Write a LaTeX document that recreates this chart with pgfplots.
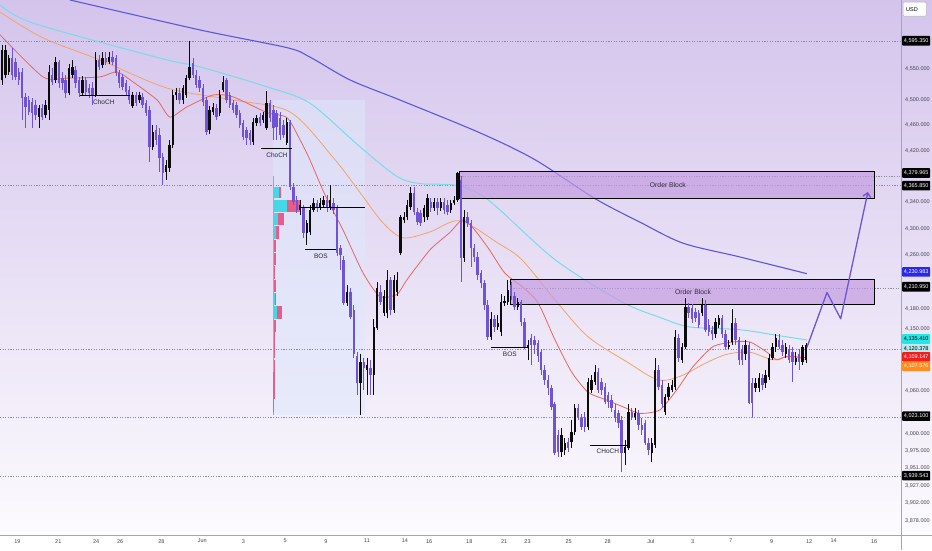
\documentclass[border=0pt]{standalone}
\usepackage{pgfplots}
\pgfplotsset{compat=1.18}
\usepackage{pgfplotstable}
\usetikzlibrary{arrows.meta}
\usepackage{fontspec}
\setmainfont{Liberation Sans}

\definecolor{bgtop}{RGB}{212,196,236}
\definecolor{bgmid}{RGB}{231,223,245}
\definecolor{bgbot}{RGB}{252,251,254}
\definecolor{bear}{RGB}{112,82,212}
\definecolor{bull}{RGB}{12,12,12}
\definecolor{emablue}{RGB}{92,88,222}
\definecolor{emacyan}{RGB}{120,220,232}
\definecolor{emaorange}{RGB}{242,164,104}
\definecolor{emared}{RGB}{232,102,96}
\definecolor{obfill}{RGB}{196,156,226}
\definecolor{vpcyan}{RGB}{70,215,230}
\definecolor{vppink}{RGB}{232,92,140}
\definecolor{vpbox}{RGB}{222,232,252}
\definecolor{arrowc}{RGB}{112,84,212}
\definecolor{lblgray}{RGB}{70,70,80}
\definecolor{lblblue}{RGB}{40,40,235}
\definecolor{lblcyan}{RGB}{40,228,228}
\definecolor{lblcyanl}{RGB}{178,236,240}
\definecolor{lblred}{RGB}{242,30,30}
\definecolor{lblorange}{RGB}{255,140,30}
\definecolor{dotc}{RGB}{140,140,150}
\definecolor{antext}{RGB}{40,40,50}

\newcommand\lblfont{\fontsize{5.5}{6.5}\selectfont}
\newcommand\anfont{\fontsize{6.5}{7.5}\selectfont}

\pgfplotstableread{
x o h l c
0 4532 4589 4524 4580
1 4540 4589 4535 4580
2 4545 4572 4540 4567
3 4567 4584 4532 4540
4 4561 4567 4532 4537
5 4545 4551 4524 4532
6 4545 4551 4469 4503
7 4505 4511 4456 4489
8 4500 4507 4476 4481
9 4497 4503 4456 4480
10 4492 4500 4469 4476
11 4473 4492 4456 4488
12 4488 4494 4469 4473
13 4476 4500 4472 4492
14 4484 4556 4469 4545
15 4540 4551 4524 4529
16 4532 4569 4527 4561
17 4561 4564 4519 4527
18 4535 4545 4516 4527
19 4532 4540 4503 4511
20 4511 4558 4508 4551
21 4540 4564 4535 4553
22 4548 4554 4519 4527
23 4532 4537 4505 4511
24 4511 4538 4507 4532
25 4532 4537 4508 4513
26 4519 4526 4503 4511
27 4519 4529 4492 4508
28 4508 4577 4505 4564
29 4564 4572 4548 4553
30 4556 4577 4551 4567
31 4567 4577 4556 4561
32 4561 4577 4558 4569
33 4569 4579 4556 4561
34 4567 4572 4538 4543
35 4543 4548 4519 4527
36 4537 4542 4516 4521
37 4527 4532 4507 4513
38 4516 4522 4494 4500
39 4491 4513 4488 4508
40 4508 4513 4491 4495
41 4500 4513 4495 4508
42 4505 4511 4488 4492
43 4495 4500 4475 4480
44 4484 4491 4403 4426
45 4426 4461 4421 4450
46 4453 4461 4429 4437
47 4445 4456 4387 4409
48 4410 4417 4367 4386
49 4387 4406 4375 4397
50 4393 4437 4387 4429
51 4429 4516 4424 4508
52 4508 4519 4500 4513
53 4511 4519 4494 4500
54 4500 4524 4494 4519
55 4508 4540 4503 4535
56 4535 4595 4532 4553
57 4559 4567 4535 4540
58 4540 4548 4519 4524
59 4532 4538 4513 4519
60 4519 4526 4491 4497
61 4500 4505 4445 4450
62 4453 4491 4446 4484
63 4481 4495 4476 4489
64 4488 4494 4469 4473
65 4480 4516 4475 4508
66 4516 4538 4513 4529
67 4532 4535 4495 4500
68 4508 4513 4488 4492
69 4495 4500 4480 4484
70 4492 4497 4472 4476
71 4480 4484 4456 4461
72 4464 4469 4437 4442
73 4453 4458 4429 4440
74 4448 4453 4429 4437
75 4434 4472 4429 4465
76 4464 4476 4459 4472
77 4473 4480 4459 4464
78 4469 4481 4464 4476
79 4456 4515 4453 4495
80 4495 4500 4465 4472
81 4484 4492 4437 4456
82 4480 4484 4437 4458
83 4472 4481 4437 4445
84 4461 4469 4440 4445
85 4432 4472 4429 4465
86 4465 4469 4359 4364
87 4364 4370 4336 4341
88 4344 4350 4324 4329
89 4329 4344 4321 4336
90 4332 4336 4286 4294
91 4294 4313 4275 4309
92 4295 4336 4291 4329
93 4329 4347 4326 4339
94 4339 4344 4326 4332
95 4332 4347 4329 4339
96 4336 4350 4332 4344
97 4344 4352 4326 4332
98 4333 4367 4329 4344
99 4339 4347 4323 4329
100 4332 4336 4259 4263
101 4271 4275 4238 4260
102 4253 4259 4186 4189
103 4189 4215 4184 4205
104 4205 4211 4164 4168
105 4178 4186 4108 4113
106 4110 4117 4055 4072
107 4072 4113 4026 4102
108 4102 4108 4062 4094
109 4091 4108 4055 4098
110 4094 4105 4055 4084
111 4084 4164 4055 4153
112 4152 4220 4149 4211
113 4205 4215 4186 4190
114 4174 4208 4169 4198
115 4174 4238 4166 4223
116 4223 4227 4171 4178
117 4178 4230 4174 4223
118 4204 4235 4199 4223
119 4263 4321 4260 4317
120 4313 4326 4309 4318
121 4318 4344 4313 4336
122 4333 4363 4329 4355
123 4355 4363 4321 4326
124 4326 4332 4306 4310
125 4324 4329 4304 4309
126 4317 4336 4310 4332
127 4317 4353 4313 4347
128 4341 4347 4326 4332
129 4332 4347 4327 4341
130 4341 4347 4321 4332
131 4332 4346 4327 4341
132 4341 4347 4323 4329
133 4336 4344 4321 4326
134 4329 4344 4324 4339
135 4339 4350 4336 4344
136 4344 4387 4341 4386
137 4375 4381 4220 4256
138 4256 4329 4250 4318
139 4318 4326 4303 4309
140 4309 4313 4242 4271
141 4271 4277 4250 4257
142 4257 4265 4223 4230
143 4233 4238 4211 4218
144 4218 4223 4178 4186
145 4186 4193 4134 4139
146 4139 4175 4134 4164
147 4164 4171 4146 4153
148 4153 4171 4149 4159
149 4145 4201 4140 4190
150 4189 4199 4184 4192
151 4190 4223 4186 4208
152 4215 4220 4193 4198
153 4198 4204 4178 4183
154 4183 4196 4178 4190
155 4190 4193 4155 4161
156 4161 4166 4120 4123
157 4123 4134 4105 4126
158 4137 4143 4098 4127
159 4134 4140 4113 4127
160 4130 4134 4102 4110
161 4116 4120 4084 4091
162 4091 4098 4069 4076
163 4076 4084 4055 4065
164 4065 4069 4033 4038
165 4041 4045 3970 3973
166 3998 4005 3966 3974
167 3974 4008 3966 3998
168 3977 3994 3970 3987
169 3988 3994 3974 3980
170 3988 4019 3980 4002
171 4002 4042 3998 4036
172 4036 4041 4019 4023
173 4022 4028 4005 4009
174 4022 4030 4002 4009
175 4009 4080 4005 4074
176 4062 4084 4058 4076
177 4074 4098 4069 4088
178 4088 4094 4058 4062
179 4074 4080 4055 4062
180 4066 4072 4041 4045
181 4055 4059 4036 4045
182 4048 4054 4030 4036
183 4033 4041 4016 4022
184 4029 4033 4008 4015
185 4019 4025 3945 3973
186 3973 3991 3956 3981
187 3980 4041 3977 4030
188 4030 4036 4019 4023
189 4023 4036 4019 4029
190 4029 4033 4005 4012
191 4012 4022 3998 4005
192 4015 4019 3983 3987
193 3987 3994 3970 3977
194 3973 3994 3960 3987
195 3984 4108 3980 4091
196 4091 4098 4062 4066
197 4069 4076 4036 4041
198 4030 4056 4026 4051
199 4051 4072 4048 4066
200 4062 4076 4059 4069
201 4066 4149 4062 4139
202 4137 4142 4102 4108
203 4105 4129 4101 4123
204 4123 4196 4120 4183
205 4183 4189 4166 4174
206 4181 4187 4159 4164
207 4175 4181 4161 4166
208 4174 4178 4152 4156
209 4174 4196 4169 4186
210 4186 4193 4145 4149
211 4156 4164 4140 4146
212 4149 4155 4134 4142
213 4142 4166 4137 4161
214 4156 4171 4152 4166
215 4166 4171 4137 4142
216 4142 4149 4120 4124
217 4123 4134 4120 4127
218 4131 4180 4127 4159
219 4159 4166 4127 4134
220 4134 4139 4098 4105
221 4120 4127 4098 4105
222 4113 4134 4105 4127
223 4127 4131 4041 4043
224 4072 4080 4023 4043
225 4065 4080 4059 4072
226 4065 4087 4059 4080
227 4080 4085 4062 4069
228 4072 4091 4065 4084
229 4081 4114 4076 4108
230 4108 4129 4105 4123
231 4123 4142 4117 4137
232 4134 4142 4120 4124
233 4127 4134 4110 4116
234 4113 4129 4108 4123
235 4120 4126 4101 4105
236 4117 4123 4074 4102
237 4102 4117 4098 4108
238 4113 4120 4091 4102
239 4102 4127 4098 4123
240 4105 4130 4101 4126
}\candles

% volume profile row: low, high, end of cyan part, end of pink part
\newcommand\vp[4]{%
  \addplot[fill=vpcyan, draw=none, forget plot] coordinates {(80.9,#1) (#3,#1) (#3,#2) (80.9,#2)} --cycle;
  \addplot[fill=vppink, draw=none, forget plot] coordinates {(#3,#1) (#4,#1) (#4,#2) (#3,#2)} --cycle;
}

\tikzset{
  lbox/.style={anchor=west, font=\lblfont, text=white, inner xsep=1pt, inner ysep=1pt,
    minimum width=28pt, minimum height=9.6pt, xshift=1pt, rounded corners=0.8pt},
  struct/.style={line width=0.9pt, black},
  dotl/.style={dotc, line width=0.5pt, dash pattern=on 1.2pt off 1.4pt}
}

\begin{document}
\begin{tikzpicture}
\path[use as bounding box] (0,0) rectangle (932pt,550pt);
\shade[top color=bgtop, middle color=bgmid, bottom color=bgbot] (0,15pt) rectangle (932pt,550pt);
\fill[white] (0,0) rectangle (932pt,15pt);
\begin{axis}[
  at={(0pt,15pt)}, anchor=south west,
  scale only axis, width=901pt, height=535pt,
  y coord trafo/.code={\pgfmathparse{ln(#1)}},
  y coord inv trafo/.code={\pgfmathparse{exp(#1)}},
  xmin=-0.6, xmax=268.4, ymin=3859, ymax=4662,
  clip=false,
  axis line style={draw=none},
  major tick length=0pt, minor tick length=0pt,
  tick style={draw=none},
  xtick={4.6,16.8,28.1,35.3,47.6,59.8,72.1,84.5,96.7,109.0,120.3,127.5,139.5,149.9,156.9,169.2,180.8,193.7,206.2,217.6,229.8,241.0,248.3,260.4},
  xticklabels={19,21,24,26,28,Jun,3,5,9,11,14,16,18,21,23,25,28,Jul,3,7,9,12,14,16},
  ytick={4550,4500,4460,4420,4340,4300,4260,4180,4150,4060,4000,3975,3951,3927,3902,3878},
  yticklabels={{4,550.000},{4,500.000},{4,460.000},{4,420.000},{4,340.000},{4,300.000},{4,260.000},{4,180.000},{4,150.000},{4,060.000},{4,000.000},{3,975.000},{3,951.000},{3,927.000},{3,902.000},{3,878.000}},
  yticklabel pos=right,
  xticklabel style={font=\lblfont, text=lblgray, inner sep=0pt, anchor=north, yshift=-4pt},
  yticklabel style={font=\lblfont, text=lblgray, inner sep=0pt, anchor=west, xshift=4pt},
]
% volume profile range box
\fill[vpbox, fill opacity=0.55] (axis cs:80.9,4026) rectangle (axis cs:108.4,4500);
\draw[gray!70, line width=0.5pt] (axis cs:80.9,4026) -- (axis cs:80.9,4380);

% horizontal price lines
\draw[dotl] (axis cs:-0.6,4595.35) -- (axis cs:268.4,4595.35);
\draw[dotl] (axis cs:-0.6,4365.85) -- (axis cs:268.4,4365.85);
\draw[dotl] (axis cs:-0.6,4120.378) -- (axis cs:268.4,4120.378);
\draw[dotl] (axis cs:-0.6,4023.1) -- (axis cs:268.4,4023.1);
\draw[dotl] (axis cs:-0.6,3939.543) -- (axis cs:268.4,3939.543);
\draw[dotl] (axis cs:136.7,4379.965) -- (axis cs:268.4,4379.965);
\draw[dotl] (axis cs:151.9,4210.95) -- (axis cs:268.4,4210.95);

% moving averages
\addplot[emablue, line width=1.1pt, smooth, tension=0.5] coordinates {
(20.3,4662) (59.1,4613) (85.1,4584) (91.9,4569) (103.9,4532) (118.8,4500) (142.7,4448) (159.1,4406) (177.0,4346) (190.4,4310) (203.3,4278) (220.3,4257) (240.3,4232)};
\addplot[emacyan, line width=1.0pt, smooth, tension=0.5] coordinates {
(-0.6,4654) (9.3,4624) (47.2,4567) (59.1,4553) (79.1,4521) (91.9,4495) (106.9,4426) (117.9,4380) (124.8,4369) (135.8,4366) (145.1,4344) (165.1,4253) (185.1,4190) (197.0,4166) (205.4,4153) (220.3,4149) (232.2,4140) (240.3,4134)};
\addplot[emaorange, line width=0.8pt, smooth, tension=0.5] coordinates {
(-0.6,4642) (12.2,4600) (29.3,4564) (49.3,4519) (69.0,4500) (86.0,4481) (98.8,4410) (106.9,4355) (113.7,4309) (119.7,4286) (127.8,4295) (136.7,4312) (148.1,4278) (155.2,4253) (165.1,4193) (174.9,4139) (186.9,4101) (195.8,4076) (202.4,4081) (210.4,4101) (216.4,4113) (223.3,4116) (230.1,4105) (235.2,4110) (240.3,4105)};
\addplot[emared, line width=0.8pt, smooth, tension=0.4] coordinates {
(-0.6,4605) (12.2,4537) (19.4,4535) (29.3,4537) (34.3,4545) (39.1,4529) (46.3,4500) (50.1,4473) (55.2,4489) (63.0,4508) (69.0,4505) (79.1,4480) (85.1,4472) (89.0,4437) (91.9,4406) (96.4,4352) (101.8,4298) (107.8,4233) (112.8,4198) (117.9,4201) (120.9,4223) (127.8,4268) (133.7,4294) (137.3,4313) (140.3,4303) (145.1,4271) (150.1,4233) (155.2,4213) (160.0,4189) (165.1,4134) (170.1,4087) (175.0,4058) (180.0,4048) (185.1,4038) (190.4,4028) (196.4,4033) (201.5,4062) (206.3,4095) (212.2,4124) (218.2,4131) (223.3,4131) (228.4,4116) (231.3,4105) (234.3,4110) (240.3,4108)};

% order blocks
\draw[fill=obfill, fill opacity=0.7, draw=black, line width=1pt] (axis cs:136.7,4346) rectangle (axis cs:260.6,4387);
\draw[fill=obfill, fill opacity=0.7, draw=black, line width=1pt] (axis cs:151.9,4186) rectangle (axis cs:260.6,4223);
\node[font=\fontsize{6.8}{8}\selectfont, text={rgb,255:red,50;green,40;blue,60}] at (axis cs:198.8,4366) {Order Block};
\node[font=\fontsize{6.8}{8}\selectfont, text={rgb,255:red,50;green,40;blue,60}] at (axis cs:206.3,4204) {Order Block};

% volume profile rows
\vp{4346}{4364}{82.7}{83.3}
\vp{4326}{4344}{85.1}{89.0}
\vp{4306}{4324}{82.4}{84.2}
\vp{4285}{4304}{81.8}{82.7}
\vp{4265}{4283}{81.3}{81.8}
\vp{4245}{4263}{81.3}{81.8}
\vp{4224}{4244}{81.2}{81.6}
\vp{4205}{4223}{81.3}{81.8}
\vp{4186}{4204}{81.5}{81.9}
\vp{4165}{4184}{82.1}{83.6}
\vp{4146}{4164}{81.3}{81.9}
\vp{4127}{4145}{81.2}{81.6}
\vp{4107}{4126}{81.2}{81.6}
\vp{4088}{4105}{81.2}{81.5}
\vp{4069}{4087}{81.0}{81.5}
\vp{4049}{4068}{81.0}{81.5}
\vp{4030}{4048}{81.0}{81.3}

% candles (wick low-high, body open-close), read from the table row by row
\pgfplotsforeachungrouped \i in {0,...,240}{%
  \pgfplotstablegetelem{\i}{o}\of\candles \let\vo=\pgfplotsretval
  \pgfplotstablegetelem{\i}{h}\of\candles \let\vh=\pgfplotsretval
  \pgfplotstablegetelem{\i}{l}\of\candles \let\vl=\pgfplotsretval
  \pgfplotstablegetelem{\i}{c}\of\candles \let\vc=\pgfplotsretval
  \ifdim\vc pt<\vo pt \def\cc{bear}\let\vt=\vo\let\vb=\vc
  \else \def\cc{bull}\let\vt=\vc\let\vb=\vo\fi
  \edef\cmd{\noexpand\draw[\cc, line width=0.7pt] (axis cs:\i,\vl) -- (axis cs:\i,\vh);
    \noexpand\draw[\cc, line width=2.4pt] (axis cs:\i,\vb) -- (axis cs:\i,\vt);}%
  \cmd
}

% point of control line
\draw[struct] (axis cs:89.0,4332) -- (axis cs:108.4,4332);
% structure annotations
\draw[struct] (axis cs:23.3,4507) -- (axis cs:38.2,4507);
\node[font=\anfont, text=antext] at (axis cs:30.4,4496) {ChoCH};
\draw[struct] (axis cs:77.3,4424) -- (axis cs:86.6,4424);
\node[font=\anfont, text=antext] at (axis cs:82.1,4413) {ChoCH};
\draw[struct] (axis cs:90.4,4269) -- (axis cs:99.7,4269);
\node[font=\anfont, text=antext] at (axis cs:95.2,4258) {BOS};
\draw[struct] (axis cs:146.0,4123) -- (axis cs:157.0,4123);
\node[font=\anfont, text=antext] at (axis cs:151.6,4113) {BOS};
\draw[struct] (axis cs:175.5,3984) -- (axis cs:186.9,3984);
\node[font=\anfont, text=antext] at (axis cs:180.9,3975) {CHoCH};

% projected path
\addplot[arrowc, line width=1.3pt, line join=round, -{Straight Barb[length=4pt, width=8pt]}] coordinates {
(240.3,4123) (246.3,4204) (250.4,4165) (258.5,4356)};

% price scale labels
\node[lbox, fill=black] at (axis cs:268.4,4595.35) {4,595.350};
\node[lbox, fill=black, yshift=3.5pt] at (axis cs:268.4,4379.965) {4,379.965};
\node[lbox, fill=black] at (axis cs:268.4,4365.85) {4,365.850};
\node[lbox, fill=lblblue, yshift=2.5pt] at (axis cs:268.4,4230.983) {4,230.983};
\node[lbox, fill=black, yshift=1pt] at (axis cs:268.4,4210.95) {4,210.950};
\node[lbox, fill=lblcyan, text=black] at (axis cs:268.4,4135.41) {4,135.410};
\node[lbox, fill=lblcyanl, text=black] at (axis cs:268.4,4120.378) {4,120.378};
\node[lbox, fill=lblred] at (axis cs:268.4,4109.147) {4,109.147};
\node[lbox, fill=lblorange, yshift=-8.4pt] at (axis cs:268.4,4107.576) {4,107.576};
\node[lbox, fill=black, yshift=1pt] at (axis cs:268.4,4023.1) {4,023.100};
\node[lbox, fill=black, yshift=1pt] at (axis cs:268.4,3939.543) {3,939.543};
\node[draw=gray!60, fill=white, rounded corners=1pt, font=\lblfont, text=black,
  anchor=north west, text width=17pt, align=left, inner xsep=3pt, minimum height=14pt,
  xshift=2pt, yshift=-2pt] at (rel axis cs:1,1) {USD};
\end{axis}
\draw[gray!70, line width=0.8pt] (0,15pt) -- (932pt,15pt);
\draw[gray!70, line width=0.8pt] (901pt,0) -- (901pt,550pt);
\end{tikzpicture}
\end{document}
